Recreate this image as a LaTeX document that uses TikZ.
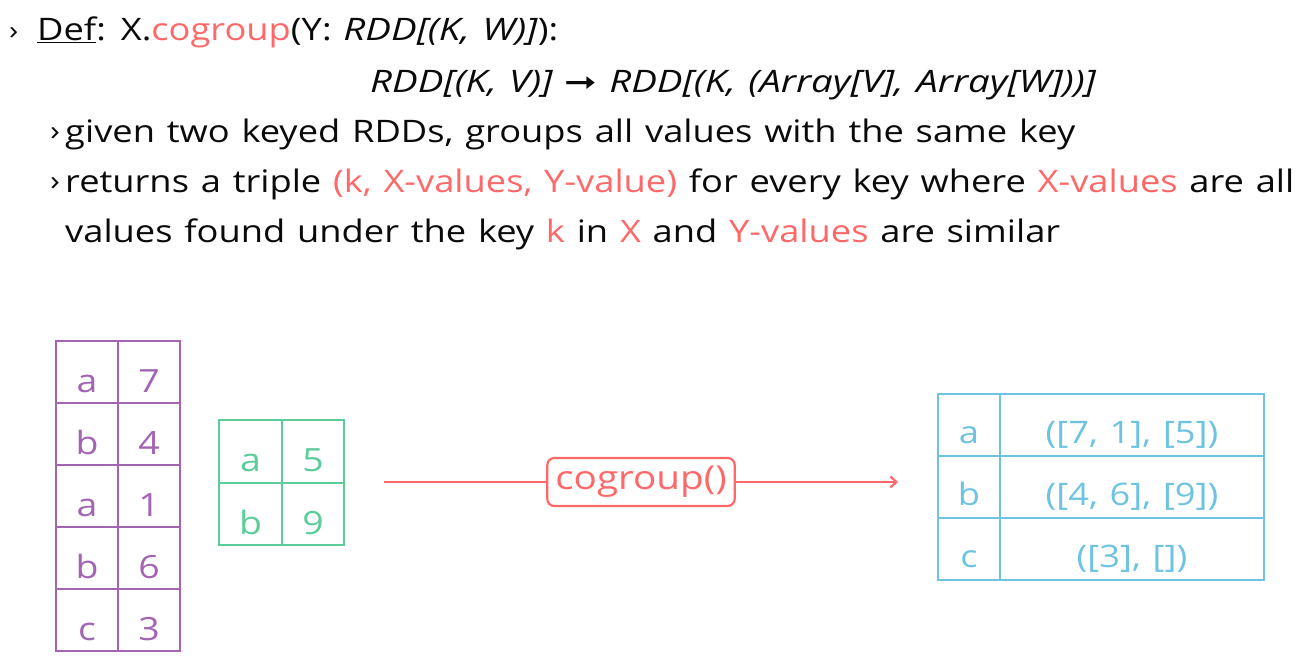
\documentclass[tikz,border=0pt]{standalone}
\usepackage{fontspec}
\setmainfont{Open Sans}[FakeStretch=1.17, WordSpace=1.25, ItalicFeatures={FakeStretch=1.24}]
\newfontfamily\arrowfont{DejaVu Sans}[FakeStretch=1.3]
\usetikzlibrary{arrows.meta}
\definecolor{coral}{RGB}{255,104,104}
\definecolor{plum}{RGB}{164,100,180}
\definecolor{mint}{RGB}{92,204,152}
\definecolor{sky}{RGB}{110,194,226}
\definecolor{ink}{RGB}{10,10,10}
\tikzset{
  txt/.style={anchor=base west, inner sep=0pt, text=ink, font=\fontsize{31}{38}\selectfont},
  bullet/.style={anchor=base west, inner sep=0pt, text=ink, font=\fontsize{28}{32}\selectfont},
  cell/.style={draw, line width=2.4pt, inner sep=0pt, minimum width=62pt, minimum height=62pt,
    text height=40pt, text depth=0pt, font=\fontsize{32}{38}\selectfont},
  plumcell/.style={cell, draw=plum, text=plum},
  mintcell/.style={cell, draw=mint, text=mint, minimum height=62.5pt, minimum width=62.5pt},
  skycell/.style={cell, draw=sky, text=sky, text height=36pt, font=\fontsize{31}{38}\selectfont},
  oplabel/.style={draw=coral, text=coral, fill=white, line width=2.2pt, rounded corners=7pt,
    inner xsep=8pt, minimum height=48pt, font=\fontsize{33}{38}\selectfont},
}
\newcommand{\hl}[1]{\textcolor{coral}{#1}}
\begin{document}
\begin{tikzpicture}[x=1pt,y=-1pt]
\useasboundingbox (0,0) rectangle (1304,664);

% definition and description
\node[bullet, font=\fontsize{26}{30}\selectfont] (bul0) at (9,39) {›};
\node[txt] (def1) at (37,40) {\underline{Def}: X.\hl{cogroup}(Y: \textit{RDD[(K, W)]}):};
\node[txt] (def2) at (370,92) {\textit{RDD[(K, V)]} {\arrowfont\fontsize{30}{34}\selectfont ➞} \textit{RDD[(K, (Array[V], Array[W]))]}};
\node[bullet] (bul1) at (50,140) {›};
\node[txt] (ln1) at (65,142) {given two keyed RDDs, groups all values with the same key};
\node[bullet] (bul2) at (50,190) {›};
\node[txt] (ln2) at (65,192) {returns a triple \hl{(k, X-values, Y-value)} for every key where \hl{X-values} are all};
\node[txt] (ln3) at (65,242) {values found under the key \hl{k} in \hl{X} and \hl{Y-values} are similar};

% X: the five-row keyed RDD
\node[plumcell] (x1k) at (87,372) {a};  \node[plumcell] (x1v) at (149,372) {7};
\node[plumcell] (x2k) at (87,434) {b};  \node[plumcell] (x2v) at (149,434) {4};
\node[plumcell] (x3k) at (87,496) {a};  \node[plumcell] (x3v) at (149,496) {1};
\node[plumcell] (x4k) at (87,558) {b};  \node[plumcell] (x4v) at (149,558) {6};
\node[plumcell] (x5k) at (87,620) {c};  \node[plumcell] (x5v) at (149,620) {3};

% Y: the two-row keyed RDD
\node[mintcell] (y1k) at (250.5,451.5) {a}; \node[mintcell] (y1v) at (313,451.5) {5};
\node[mintcell] (y2k) at (250.5,514) {b};   \node[mintcell] (y2v) at (313,514) {9};

% result of cogroup
\node[skycell] (r1k) at (969,425) {a}; \node[skycell, minimum width=264pt] (r1v) at (1132,425) {([7, 1], [5])};
\node[skycell] (r2k) at (969,487) {b}; \node[skycell, minimum width=264pt] (r2v) at (1132,487) {([4, 6], [9])};
\node[skycell] (r3k) at (969,549) {c}; \node[skycell, minimum width=264pt] (r3v) at (1132,549) {([3], [])};

% transformation arrow
\coordinate (src) at (384,482);
\coordinate (dst) at (898,482);
\draw[coral, line width=2.2pt, -{Straight Barb[length=6pt,width=11pt]}] (src) -- (dst)
  node[oplabel, midway] (op) {cogroup()};
\end{tikzpicture}
\end{document}
